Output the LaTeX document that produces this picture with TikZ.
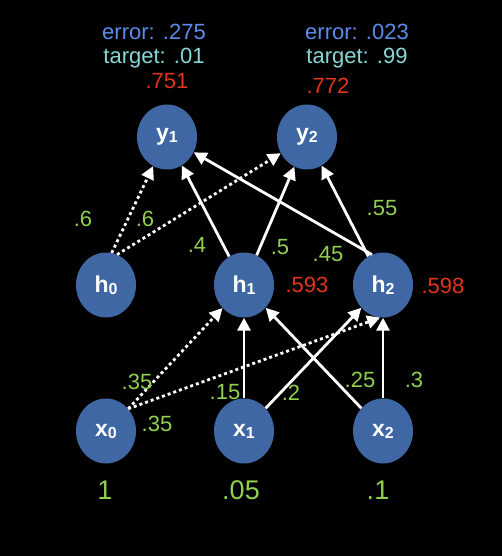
\documentclass[tikz,border=0pt]{standalone}
\usepackage{fontspec}
\setmainfont{Liberation Sans}
\usetikzlibrary{arrows.meta,shapes.geometric}
\definecolor{neuronblue}{HTML}{3F67A3}
\definecolor{errorblue}{HTML}{5B8CEB}
\definecolor{targetcyan}{HTML}{86D8D8}
\definecolor{outred}{HTML}{E2331B}
\definecolor{weightgreen}{HTML}{8FD14F}
\newcommand{\nsub}[2]{\textbf{#1}\raisebox{-2pt}{\fontsize{16}{16}\selectfont\bfseries #2}}
\tikzset{
	% ---- default
	every node/.style={font=\fontsize{22}{24}\selectfont},
	% ---- custom
	neuron/.style={ellipse, fill=neuronblue, text=white, minimum width=60pt,
		minimum height=65pt, inner sep=0pt, font=\fontsize{23}{24}\selectfont},
	synapse/.style={draw=white, line width=2.8pt, -{Triangle[length=13pt,width=13pt]}},
	bias synapse/.style={synapse, dash pattern=on 3pt off 3pt},
	weight/.style={text=weightgreen},
	input/.style={weight, font=\fontsize{27}{28}\selectfont},
	activation/.style={text=outred},
	errortext/.style={text=errorblue},
	targettext/.style={text=targetcyan},
}

\begin{document}
\begin{tikzpicture}[x=1pt, y=-1pt]

% background %{{{2

	\fill[black] (0,0) rectangle (502,556);
	\useasboundingbox (0,0) rectangle (502,556);

% neurons %{{{2

	\node[neuron] (y1) at (167,137) {\nsub{y}{1}};
	\node[neuron] (y2) at (307,137) {\nsub{y}{2}};

	\node[neuron] (h0) at (106,285) {\nsub{h}{0}};
	\node[neuron] (h1) at (244,285) {\nsub{h}{1}};
	\node[neuron] (h2) at (383,285) {\nsub{h}{2}};

	\node[neuron] (x0) at (106,431) {\nsub{x}{0}};
	\node[neuron] (x1) at (244,431) {\nsub{x}{1}};
	\node[neuron] (x2) at (383,431) {\nsub{x}{2}};

% synapses, hidden to output %{{{2

	\draw[bias synapse] (h0.80) -- (y1);
	\draw[bias synapse] (h0.70) -- (y2);

	\draw[synapse] (h1) -- (y1);
	\draw[synapse] (h1) -- (y2);
	\draw[synapse] (h2.110) -- (y1);
	\draw[synapse] (h2) -- (y2);

% synapses, input to hidden %{{{2

	\draw[bias synapse] (x0.45) -- (h1);
	\draw[bias synapse] (x0.45) -- (h2.265);

	\draw[synapse] (x1) -- (h1);
	\draw[synapse] (x1) -- (h2);
	\draw[synapse] (x2) -- (h1);
	\draw[synapse] (x2) -- (h2);

% output labels %{{{2

	\node[errortext] (e1) at (154,32) {error: .275};
	\node[targettext] (t1) at (154,58) {target: .01};
	\node[activation] (a1) at (167,81) {.751};

	\node[errortext] (e2) at (357,32) {error: .023};
	\node[targettext] (t2) at (357,58) {target: .99};
	\node[activation] (a2) at (328,86) {.772};

% hidden labels %{{{2

	\node[activation] (a3) at (307,285) {.593};
	\node[activation] (a4) at (443,286) {.598};

% weights labels %{{{2

	\node[weight] (w1) at (83,219) {.6};
	\node[weight] (w2) at (145,219) {.6};
	\node[weight] (w3) at (197,245) {.4};
	\node[weight] (w4) at (280,247) {.5};
	\node[weight] (w5) at (328,254) {.45};
	\node[weight] (w6) at (382,208) {.55};

	\node[weight] (w7) at (137,382) {.35};
	\node[weight] (w8) at (157,424) {.35};
	\node[weight] (w9) at (225,392) {.15};
	\node[weight] (w10) at (291,393) {.2};
	\node[weight] (w11) at (360,380) {.25};
	\node[weight] (w12) at (414,380) {.3};

% input values %{{{2

	\node[input] (i0) at (105,490) {1};
	\node[input] (i1) at (241,490) {.05};
	\node[input] (i2) at (378,490) {.1};

% closing %{{{2

\end{tikzpicture}
\end{document}
